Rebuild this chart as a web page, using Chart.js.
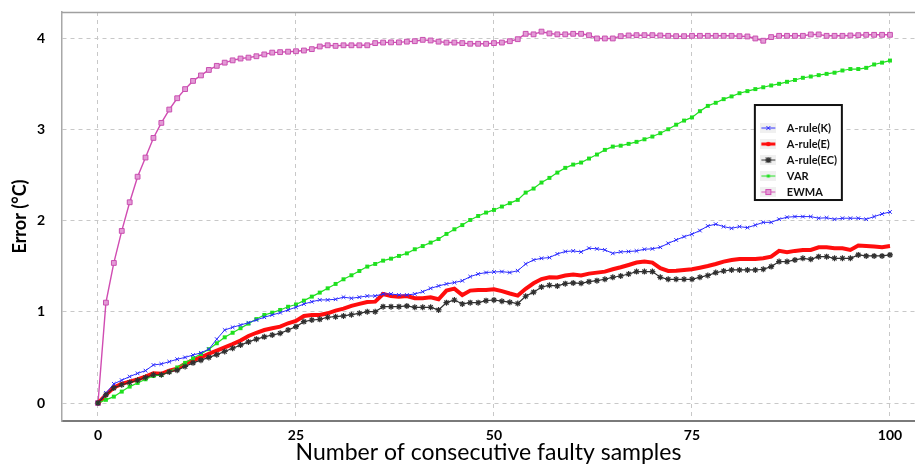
<!DOCTYPE html>
<html>
<head>
<meta charset="utf-8">
<script src="https://cdn.jsdelivr.net/npm/chart.js@4/dist/chart.umd.min.js"></script>
<style>
html,body{margin:0;padding:0;background:#ffffff;}
#wrap{width:915px;height:467px;position:relative;}
</style>
</head>
<body>
<div id="wrap"><canvas id="c" width="915" height="467"></canvas></div>
<script>
// ---- data ----
const samples = [0,1,2,3,4,5,6,7,8,9,10,11,12,13,14,15,16,17,18,19,20,21,22,23,24,25,26,27,28,29,30,31,32,33,34,35,36,37,38,39,40,41,42,43,44,45,46,47,48,49,50,51,52,53,54,55,56,57,58,59,60,61,62,63,64,65,66,67,68,69,70,71,72,73,74,75,76,77,78,79,80,81,82,83,84,85,86,87,88,89,90,91,92,93,94,95,96,97,98,99,100];
const seriesNames = ['A-rule(K)','A-rule(E)','A-rule(EC)','VAR','EWMA'];
const xTicks = [0,25,50,75,100];
const yTicks = [0,1,2,3,4];

const ruleK = [0,0.11,0.21,0.25,0.29,0.325,0.355,0.417,0.428,0.453,0.48,0.50,0.526,0.55,0.59,0.70,0.80,0.83,0.855,0.88,
0.91,0.94,0.965,0.99,1.02,1.05,1.085,1.11,1.13,1.13,1.137,1.16,1.148,1.16,1.173,1.173,1.195,1.195,1.184,1.184,
1.195,1.22,1.257,1.283,1.305,1.32,1.34,1.385,1.414,1.43,1.436,1.44,1.43,1.45,1.524,1.568,1.586,1.594,1.634,1.66,
1.667,1.656,1.696,1.69,1.678,1.64,1.656,1.66,1.667,1.685,1.69,1.707,1.75,1.787,1.823,1.85,1.89,1.94,1.96,1.933,
1.915,1.933,1.922,1.95,1.98,1.98,2.014,2.036,2.043,2.043,2.043,2.025,2.03,2.014,2.025,2.025,2.025,2.014,2.043,2.072,2.094];

const ruleE = [0,0.09,0.17,0.21,0.235,0.26,0.29,0.325,0.32,0.355,0.375,0.43,0.47,0.50,0.54,0.575,0.61,0.645,0.685,0.735,
0.77,0.80,0.82,0.837,0.874,0.90,0.954,0.965,0.965,0.983,1.012,1.034,1.064,1.086,1.107,1.111,1.195,1.173,1.166,1.173,
1.148,1.148,1.159,1.137,1.232,1.254,1.184,1.232,1.239,1.239,1.247,1.226,1.20,1.177,1.252,1.312,1.358,1.378,1.376,1.397,
1.408,1.397,1.418,1.429,1.44,1.466,1.488,1.513,1.539,1.55,1.539,1.477,1.447,1.45,1.458,1.466,1.483,1.502,1.524,1.55,
1.568,1.579,1.579,1.579,1.586,1.604,1.667,1.652,1.667,1.678,1.678,1.707,1.707,1.696,1.696,1.678,1.725,1.72,1.714,1.707,1.72];

const ruleEC = [0,0.09,0.165,0.20,0.225,0.25,0.28,0.31,0.31,0.34,0.36,0.40,0.44,0.47,0.50,0.53,0.565,0.60,0.635,0.67,
0.70,0.725,0.745,0.764,0.80,0.837,0.892,0.91,0.917,0.94,0.946,0.954,0.968,0.983,1.001,1.001,1.056,1.056,1.056,1.064,
1.049,1.049,1.049,1.02,1.10,1.129,1.086,1.10,1.10,1.122,1.129,1.116,1.105,1.09,1.17,1.215,1.272,1.29,1.283,1.308,
1.316,1.312,1.33,1.341,1.356,1.378,1.392,1.414,1.44,1.44,1.44,1.378,1.356,1.356,1.356,1.356,1.378,1.398,1.429,1.447,
1.458,1.458,1.458,1.458,1.466,1.495,1.55,1.55,1.568,1.586,1.575,1.604,1.604,1.586,1.586,1.586,1.623,1.612,1.612,1.612,1.623];

const varSeries = [0,0.035,0.07,0.125,0.18,0.22,0.26,0.296,0.307,0.343,0.39,0.44,0.49,0.537,0.59,0.655,0.72,0.77,0.82,0.87,
0.92,0.965,0.99,1.02,1.055,1.08,1.122,1.166,1.21,1.257,1.305,1.356,1.40,1.447,1.495,1.524,1.56,1.582,1.612,1.64,
1.685,1.72,1.758,1.797,1.853,1.904,1.95,2.006,2.05,2.087,2.116,2.153,2.19,2.226,2.306,2.35,2.416,2.467,2.525,2.577,
2.613,2.635,2.679,2.723,2.774,2.81,2.82,2.84,2.862,2.89,2.92,2.957,3.0,3.05,3.095,3.13,3.198,3.256,3.29,3.33,
3.36,3.395,3.418,3.44,3.46,3.48,3.498,3.52,3.54,3.564,3.578,3.593,3.607,3.62,3.644,3.66,3.66,3.673,3.71,3.73,3.753];

const ewma = [0,1.10,1.535,1.886,2.20,2.48,2.69,2.905,3.07,3.216,3.34,3.44,3.53,3.59,3.65,3.695,3.73,3.755,3.775,3.785,
3.80,3.82,3.84,3.845,3.85,3.855,3.863,3.878,3.907,3.92,3.914,3.92,3.92,3.92,3.92,3.944,3.95,3.952,3.952,3.96,
3.965,3.98,3.973,3.96,3.95,3.95,3.944,3.937,3.937,3.937,3.944,3.95,3.965,3.987,4.046,4.04,4.07,4.05,4.04,4.04,
4.046,4.046,4.03,3.995,3.995,3.995,4.02,4.028,4.031,4.031,4.031,4.028,4.024,4.02,4.02,4.024,4.024,4.024,4.024,4.024,
4.024,4.02,4.017,3.995,3.97,4.01,4.024,4.024,4.024,4.024,4.039,4.039,4.024,4.024,4.024,4.028,4.031,4.035,4.035,4.035,4.035];

// ---- styles ----
const FONT = "Lato, 'Open Sans', 'DejaVu Sans', sans-serif";
const colK = '#2a2aff', colE = '#ff0d0d', colEC = '#303030', colVAR = '#1fe01f', colEW = '#d04cb2';

function makeSample(color, lw, marker) {
  const cv = document.createElement('canvas');
  cv.width = 16; cv.height = 10;
  const g = cv.getContext('2d');
  g.fillStyle = 'rgba(0,0,0,0.06)';
  g.fillRect(0, 0, 16, 10);
  g.strokeStyle = color; g.lineWidth = lw;
  g.beginPath(); g.moveTo(1, 5); g.lineTo(15, 5); g.stroke();
  g.lineWidth = 1;
  if (marker === 'x') {
    g.beginPath(); g.moveTo(6,3); g.lineTo(10,7); g.moveTo(10,3); g.lineTo(6,7); g.stroke();
  } else if (marker === 'star') {
    g.lineWidth = 1.3;
    g.beginPath(); g.moveTo(5.5,2.5); g.lineTo(10.5,7.5); g.moveTo(10.5,2.5); g.lineTo(5.5,7.5);
    g.moveTo(8,2); g.lineTo(8,8); g.moveTo(5,5); g.lineTo(11,5); g.stroke();
  } else if (marker === 'sq') {
    g.fillStyle = color; g.fillRect(6.5, 3.5, 3, 3);
  } else if (marker === 'sqb') {
    g.fillStyle = '#e39bd6'; g.fillRect(5.5, 2.5, 5, 5);
    g.strokeStyle = color; g.strokeRect(5.5, 2.5, 5, 5);
  } else if (marker === 'dot') {
    g.fillStyle = color; g.beginPath(); g.arc(8, 5, 2.3, 0, Math.PI * 2); g.fill();
  }
  return cv;
}
const samplesImg = [
  makeSample(colK, 1, 'x'),
  makeSample(colE, 3, 'dot'),
  makeSample(colEC, 1, 'star'),
  makeSample(colVAR, 1, 'sq'),
  makeSample(colEW, 1, 'sqb')
];

// legend placement (fractions of chart area) and frame
const legendPos = {fx: 0.807, fy: 0.258};

const framePlugin = {
  id: 'frameAndLegend',
  afterLayout(chart) {
    const lg = chart.legend, ca = chart.chartArea;
    if (!lg) return;
    const left = ca.left + legendPos.fx * (ca.right - ca.left);
    const top = ca.top + legendPos.fy * (ca.bottom - ca.top);
    lg.left = left; lg.top = top; lg.right = left + 120; lg.bottom = top + 110;
    lg.width = 120; lg.height = 110;
  },
  beforeDatasetsDraw(chart) {
    const ctx = chart.ctx, ca = chart.chartArea;
    ctx.save();
    ctx.strokeStyle = '#a0a0a0';
    ctx.lineWidth = 1.5;
    ctx.beginPath();
    ctx.moveTo(ca.left, ca.top + 0.5);
    ctx.lineTo(ca.right, ca.top + 0.5);
    ctx.stroke();
    ctx.restore();
  },
  afterDraw(chart) {
    const lg = chart.legend;
    if (!lg) return;
    const ctx = chart.ctx;
    const bx = lg.left + 4.5, by = lg.top - 12.5, bw = 87, bh = 95;
    ctx.save();
    ctx.fillStyle = '#ffffff';
    ctx.fillRect(bx, by, bw, bh);
    ctx.lineWidth = 2;
    ctx.strokeStyle = '#111111';
    ctx.strokeRect(bx, by, bw, bh);
    ctx.restore();
    lg.draw();
  }
};

const datasets = [
  {label: seriesNames[0], data: ruleK, borderColor: colK, backgroundColor: colK, borderWidth: 1,
   pointStyle: 'crossRot', pointRadius: 2.6, pointBorderWidth: 1, pointBorderColor: colK, order: 1},
  {label: seriesNames[1], data: ruleE, borderColor: colE, backgroundColor: colE, borderWidth: 4,
   pointRadius: 0, order: 3},
  {label: seriesNames[2], data: ruleEC, borderColor: colEC, backgroundColor: colEC, borderWidth: 1.2,
   pointStyle: 'star', pointRadius: 3, pointBorderWidth: 1.2, pointBorderColor: colEC, order: 0},
  {label: seriesNames[3], data: varSeries, borderColor: colVAR, backgroundColor: colVAR, borderWidth: 1.2,
   pointStyle: 'rect', pointRadius: 2.8, pointBorderWidth: 0, pointBackgroundColor: colVAR, order: 2},
  {label: seriesNames[4], data: ewma, borderColor: colEW, backgroundColor: '#e39bd6', borderWidth: 1.4,
   pointStyle: 'rect', pointRadius: 3.4, pointBorderWidth: 1, pointBorderColor: '#c94fb0', pointBackgroundColor: '#e39bd6', order: 4}
];

new Chart(document.getElementById('c'), {
  type: 'line',
  data: {labels: samples, datasets: datasets},
  plugins: [framePlugin],
  options: {
    responsive: false,
    animation: false,
    devicePixelRatio: 1,
    layout: {autoPadding: false, padding: {top: 12, right: 0, bottom: 0, left: 0}},
    elements: {line: {tension: 0}},
    plugins: {
      tooltip: {enabled: false},
      legend: {
        display: true,
        position: 'chartArea',
        fullSize: false,
        align: 'start',
        labels: {
          usePointStyle: true,
          pointStyleWidth: 26,
          padding: 5,
          color: '#111111',
          font: {family: FONT, size: 11, weight: 'bold'},
          generateLabels: (chart) => chart.data.datasets.map((ds, i) => ({
            text: ds.label, pointStyle: samplesImg[i], fillStyle: ds.borderColor,
            strokeStyle: ds.borderColor, lineWidth: 0, hidden: false, datasetIndex: i, fontColor: '#111111'
          }))
        }
      }
    },
    scales: {
      x: {
        type: 'linear', position: 'bottom',
        min: -4.545, max: 103.16,
        afterBuildTicks: (s) => { s.ticks = xTicks.map(v => ({value: v})); },
        afterFit: (s) => { s.height = 46; s.paddingLeft = 0; s.paddingRight = 0; },
        ticks: {color: '#000', font: {family: FONT, size: 14, weight: 'bold'}, padding: 6, maxRotation: 0},
        grid: {color: '#c8c8c8', lineWidth: 1, drawTicks: false},
        border: {display: true, color: '#7a7a7a', width: 2, dash: [4, 4]},
        title: {display: true, text: 'Number of consecutive faulty samples', color: '#000',
                font: {family: FONT, size: 23, weight: 'normal'}, padding: {top: 0, bottom: 1}}
      },
      y: {
        type: 'linear', position: 'left',
        min: -0.197, max: 4.285,
        afterBuildTicks: (s) => { s.ticks = yTicks.map(v => ({value: v})); },
        afterFit: (s) => { s.width = 62; s.paddingTop = 0; s.paddingBottom = 0; },
        ticks: {color: '#000', font: {family: FONT, size: 14, weight: 'bold'}, padding: 17},
        grid: {color: '#c8c8c8', lineWidth: 1, drawTicks: false},
        border: {display: true, color: '#a8a8a8', width: 1.5, dash: [4, 4]},
        title: {display: true, text: 'Error (°C)', color: '#000',
                font: {family: FONT, size: 18, weight: 'bold'}, padding: {top: 9, bottom: 0}}
      }
    }
  }
});
</script>
</body>
</html>
